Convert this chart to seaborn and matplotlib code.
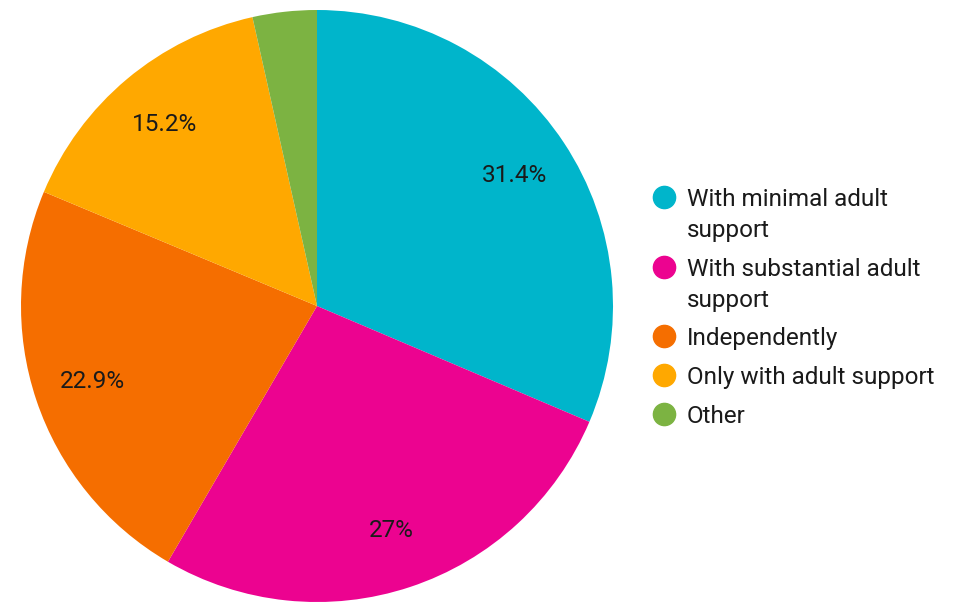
import matplotlib.pyplot as plt
import seaborn as sns
from matplotlib.lines import Line2D

sns.set_theme(style="white")
plt.rcParams['font.family'] = ['Roboto', 'DejaVu Sans']

# data
labels = ['With minimal adult\nsupport', 'With substantial adult\nsupport',
          'Independently', 'Only with adult support', 'Other']
values = [31.4, 27.0, 22.9, 15.2, 3.5]
colors = sns.color_palette(['#00B5CB', '#EC0390', '#F56E00', '#FFA800', '#7CB342'])


def pct_label(p):
    if p < 5:
        return ''
    return f'{p:.1f}'.rstrip('0').rstrip('.') + '%'


W, H = 964, 602
fig = plt.figure(figsize=(W / 100, H / 100), dpi=100)
ax = fig.add_axes([21 / W, 0.0, 592 / W, 592 / H])
ax.pie(values, colors=colors, startangle=90, counterclock=False,
       autopct=pct_label, pctdistance=0.8, radius=1,
       wedgeprops={'linewidth': 0},
       textprops={'fontsize': 17.5, 'color': '#1a1a1a'})
ax.set_xlim(-1, 1)
ax.set_ylim(-1, 1)
ax.set_aspect('equal')

# legend: marker sits on the first line of each entry (like the source chart)
line_h, item_gap = 31, 7.7
y = 197
for lab, c in zip(labels, colors):
    fig.add_artist(Line2D([664 / W], [1 - y / H], marker='o', markersize=16,
                          linestyle='', markerfacecolor=c, markeredgecolor=c,
                          transform=fig.transFigure))
    for k, part in enumerate(lab.split('\n')):
        fig.text(687 / W, 1 - (y + k * line_h) / H, part, fontsize=17.5,
                 color='#1a1a1a', va='center_baseline', ha='left')
    y += line_h * len(lab.split('\n')) + item_gap

fig.savefig('out.png', dpi=100)
